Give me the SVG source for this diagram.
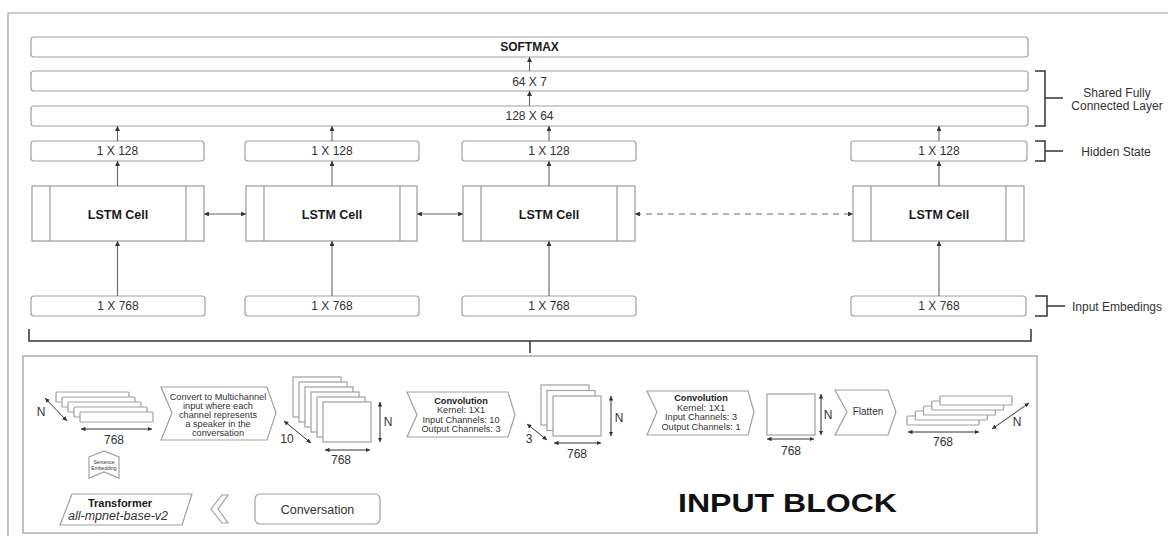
<svg xmlns="http://www.w3.org/2000/svg" width="1168" height="536" viewBox="0 0 1168 536">
<style>
text{font-family:"Liberation Sans",Arial,sans-serif;fill:#333}
.t12{font-size:12px;text-anchor:middle}
.b{font-weight:bold;fill:#1a1a1a}
.box{fill:#fff;stroke:#a0a0a0;stroke-width:1.2}
.cell{fill:#fff;stroke:#999;stroke-width:1.2}
.ln{stroke:#666;stroke-width:1.1;fill:none}
.br{stroke:#333;stroke-width:1.5;fill:none}
.dim{stroke:#333;stroke-width:1;fill:none}
.sm{font-size:9.2px;text-anchor:middle}
.frame{fill:none;stroke:#999;stroke-width:1.2}
</style>
<defs>
<marker id="ah" viewBox="0 0 6 6" refX="6" refY="3" markerWidth="4.5" markerHeight="4.5" orient="auto-start-reverse"><path d="M0,0 L6,3 L0,6 z" fill="#333"/></marker>
</defs>

<g id="outer-frame"><path class="frame" d="M8,536 V13 H1168"/></g>

<g id="softmax"><rect class="box" x="31" y="37" width="997" height="20" rx="3"/><text class="t12 b" x="529.5" y="51">SOFTMAX</text></g>
<g id="fc-64x7"><rect class="box" x="31" y="71" width="997" height="20" rx="3"/><text class="t12" x="529.5" y="85.5">64 X 7</text></g>
<g id="fc-128x64"><rect class="box" x="31" y="106" width="997" height="20" rx="3"/><text class="t12" x="529.5" y="120">128 X 64</text></g>

<g id="hidden-1"><rect class="box" x="31" y="141" width="173" height="20" rx="3"/><text class="t12" x="117.5" y="155">1 X 128</text></g>
<g id="hidden-2"><rect class="box" x="245" y="141" width="174" height="20" rx="3"/><text class="t12" x="332" y="155">1 X 128</text></g>
<g id="hidden-3"><rect class="box" x="462" y="141" width="174" height="20" rx="3"/><text class="t12" x="549" y="155">1 X 128</text></g>
<g id="hidden-4"><rect class="box" x="851" y="141" width="176" height="20" rx="3"/><text class="t12" x="939" y="155">1 X 128</text></g>

<g id="lstm-1"><rect class="cell" x="32" y="186" width="172" height="55"/><path class="cell" d="M50,186 V241 M186,186 V241"/><text class="t12 b" x="118" y="218.5" style="font-size:12.5px">LSTM Cell</text></g>
<g id="lstm-2"><rect class="cell" x="246" y="186" width="171" height="55"/><path class="cell" d="M264,186 V241 M400,186 V241"/><text class="t12 b" x="332" y="218.5" style="font-size:12.5px">LSTM Cell</text></g>
<g id="lstm-3"><rect class="cell" x="463" y="186" width="172" height="55"/><path class="cell" d="M481,186 V241 M617,186 V241"/><text class="t12 b" x="549" y="218.5" style="font-size:12.5px">LSTM Cell</text></g>
<g id="lstm-4"><rect class="cell" x="853" y="186" width="171" height="55"/><path class="cell" d="M871,186 V241 M1006,186 V241"/><text class="t12 b" x="939" y="218.5" style="font-size:12.5px">LSTM Cell</text></g>

<g id="input-1"><rect class="box" x="31" y="296" width="174" height="20" rx="3"/><text class="t12" x="118" y="310">1 X 768</text></g>
<g id="input-2"><rect class="box" x="245" y="296" width="174" height="20" rx="3"/><text class="t12" x="332" y="310">1 X 768</text></g>
<g id="input-3"><rect class="box" x="462" y="296" width="174" height="20" rx="3"/><text class="t12" x="549" y="310">1 X 768</text></g>
<g id="input-4"><rect class="box" x="851" y="296" width="175" height="20" rx="3"/><text class="t12" x="939" y="310">1 X 768</text></g>

<g id="labels">
<path class="br" d="M1035,71 H1045 V126 H1035 M1045,98 H1063"/>
<text class="t12" x="1117" y="97">Shared Fully</text>
<text class="t12" x="1117" y="110">Connected Layer</text>
<path class="br" d="M1035,141 H1045 V161 H1035 M1045,151 H1063"/>
<text class="t12" x="1116" y="155.5">Hidden State</text>
<path class="br" d="M1035,296 H1047 V316 H1035 M1047,306 H1065"/>
<text class="t12" x="1117" y="310.5">Input Embedings</text>
<path class="br" d="M29,329 V341 H1031 V329 M530,341 V353"/>
</g>

<g id="connectors">
<path class="ln" d="M529.5,71 V57" marker-end="url(#ah)"/>
<path class="ln" d="M529.5,106 V91" marker-end="url(#ah)"/>
<path class="ln" d="M117.5,141 V126" marker-end="url(#ah)"/>
<path class="ln" d="M332,141 V126" marker-end="url(#ah)"/>
<path class="ln" d="M549,141 V126" marker-end="url(#ah)"/>
<path class="ln" d="M939,141 V126" marker-end="url(#ah)"/>
<path class="ln" d="M117.5,186 V161" marker-end="url(#ah)"/>
<path class="ln" d="M332,186 V161" marker-end="url(#ah)"/>
<path class="ln" d="M549,186 V161" marker-end="url(#ah)"/>
<path class="ln" d="M939,186 V161" marker-end="url(#ah)"/>
<path class="ln" d="M117.5,296 V241" marker-end="url(#ah)"/>
<path class="ln" d="M332,296 V241" marker-end="url(#ah)"/>
<path class="ln" d="M549,296 V241" marker-end="url(#ah)"/>
<path class="ln" d="M939,296 V241" marker-end="url(#ah)"/>
<path class="ln" d="M204,214 H246" marker-start="url(#ah)" marker-end="url(#ah)"/>
<path class="ln" d="M417,214 H463" marker-start="url(#ah)" marker-end="url(#ah)"/>
<path class="ln" d="M635,214 H853" stroke-dasharray="6,5" marker-start="url(#ah)" marker-end="url(#ah)"/>
</g>

<g id="input-block">
<rect class="frame" x="23" y="356" width="1014" height="177"/>

<g id="rows-left">
<rect class="box" x="56" y="392" width="73" height="10" rx="1"/>
<rect class="box" x="62" y="397" width="73" height="10" rx="1"/>
<rect class="box" x="68" y="402" width="73" height="10" rx="1"/>
<rect class="box" x="74" y="407" width="73" height="10" rx="1"/>
<rect class="box" x="80" y="412" width="73" height="10" rx="1"/>
<path class="dim" d="M45,398 L67,421" marker-start="url(#ah)" marker-end="url(#ah)"/>
<text class="t12" x="41" y="416">N</text>
<path class="dim" d="M81,429 H152" marker-start="url(#ah)" marker-end="url(#ah)"/>
<text class="t12" x="114" y="444">768</text>
</g>

<g id="convert">
<polygon class="box" points="161,387 267,387 276,413 267,440 161,440 172,413"/>
<text class="sm" x="218" y="400">Convert to Multichannel</text>
<text class="sm" x="218" y="409">input where each</text>
<text class="sm" x="218" y="418">channel represents</text>
<text class="sm" x="218" y="427">a speaker in the</text>
<text class="sm" x="218" y="436">conversation</text>
</g>

<g id="channels-10">
<rect class="box" x="293" y="377" width="48" height="40"/>
<rect class="box" x="299" y="382" width="48" height="40"/>
<rect class="box" x="305" y="387" width="48" height="40"/>
<rect class="box" x="311" y="392" width="48" height="40"/>
<rect class="box" x="317" y="397" width="48" height="40"/>
<rect class="box" x="323" y="402" width="48" height="40"/>
<path class="dim" d="M284,421 L311,443" marker-start="url(#ah)" marker-end="url(#ah)"/>
<text class="t12" x="287" y="443">10</text>
<path class="dim" d="M380,402 V442" marker-start="url(#ah)" marker-end="url(#ah)"/>
<text class="t12" x="388" y="426">N</text>
<path class="dim" d="M325,450 H370" marker-start="url(#ah)" marker-end="url(#ah)"/>
<text class="t12" x="341" y="464">768</text>
</g>

<g id="conv-1">
<polygon class="box" points="407,392 508,392 515,415 508,437 407,437 417,415"/>
<text class="sm b" x="461" y="404">Convolution</text>
<text class="sm" x="461" y="413">Kernel: 1X1</text>
<text class="sm" x="461" y="423">Input Channels: 10</text>
<text class="sm" x="461" y="432">Output Channels: 3</text>
</g>

<g id="channels-3">
<rect class="box" x="541" y="385" width="48" height="40"/>
<rect class="box" x="547" y="390.5" width="48" height="40"/>
<rect class="box" x="553" y="396" width="48" height="40"/>
<path class="dim" d="M527,424 L547,440" marker-start="url(#ah)" marker-end="url(#ah)"/>
<text class="t12" x="529" y="443">3</text>
<path class="dim" d="M611,396 V436" marker-start="url(#ah)" marker-end="url(#ah)"/>
<text class="t12" x="619" y="422">N</text>
<path class="dim" d="M554,443 H601" marker-start="url(#ah)" marker-end="url(#ah)"/>
<text class="t12" x="577" y="458">768</text>
</g>

<g id="conv-2">
<polygon class="box" points="647,391 748,391 754,412 748,435 647,435 657,412"/>
<text class="sm b" x="701" y="401">Convolution</text>
<text class="sm" x="701" y="411">Kernel: 1X1</text>
<text class="sm" x="701" y="420">Input Channels: 3</text>
<text class="sm" x="701" y="430">Output Channels: 1</text>
</g>

<g id="channel-1">
<rect class="box" x="767" y="394" width="48" height="41"/>
<path class="dim" d="M821,394 V435" marker-start="url(#ah)" marker-end="url(#ah)"/>
<text class="t12" x="828" y="419">N</text>
<path class="dim" d="M767,439 H814" marker-start="url(#ah)" marker-end="url(#ah)"/>
<text class="t12" x="791" y="455">768</text>
</g>

<g id="flatten">
<polygon class="box" points="835,390 888,390 896,412 888,435 835,435 847,412"/>
<text class="sm" x="868" y="415" style="font-size:10px">Flatten</text>
</g>

<g id="rows-right">
<rect class="box" x="907" y="416" width="72" height="9" rx="1"/>
<rect class="box" x="915.25" y="411" width="72" height="9" rx="1"/>
<rect class="box" x="923.5" y="406" width="72" height="9" rx="1"/>
<rect class="box" x="931.75" y="401" width="72" height="9" rx="1"/>
<rect class="box" x="940" y="396" width="72" height="9" rx="1"/>
<path class="dim" d="M992,429 L1029,403" marker-start="url(#ah)" marker-end="url(#ah)"/>
<text class="t12" x="1017" y="426">N</text>
<path class="dim" d="M908,432 H979" marker-start="url(#ah)" marker-end="url(#ah)"/>
<text class="t12" x="943" y="446">768</text>
</g>

<g id="sentence-embedding">
<polygon class="box" points="89,457 104,451 119,457 119,478 104,472 89,478"/>
<text x="104" y="464" style="font-size:5px;text-anchor:middle">Sentence</text>
<text x="104" y="470" style="font-size:5px;text-anchor:middle">Embedding</text>
</g>

<g id="transformer">
<polygon class="box" points="72,494 192,494 182,525 60,525"/>
<text class="b" x="120" y="507" style="font-size:11px;text-anchor:middle">Transformer</text>
<text x="118" y="519.5" style="font-size:12.5px;font-style:italic;text-anchor:middle">all-mpnet-base-v2</text>
</g>

<g id="back-chevron">
<polygon class="box" points="222,495 228,495 218,509 228,523 222,523 211,509"/>
</g>

<g id="conversation">
<rect class="box" x="255" y="494" width="125" height="30" rx="5"/>
<text x="317.5" y="513.5" style="font-size:12.5px;text-anchor:middle">Conversation</text>
</g>

<text class="b" x="678" y="512" textLength="219" lengthAdjust="spacingAndGlyphs" style="font-size:25px;fill:#111">INPUT BLOCK</text>
</g>
</svg>
